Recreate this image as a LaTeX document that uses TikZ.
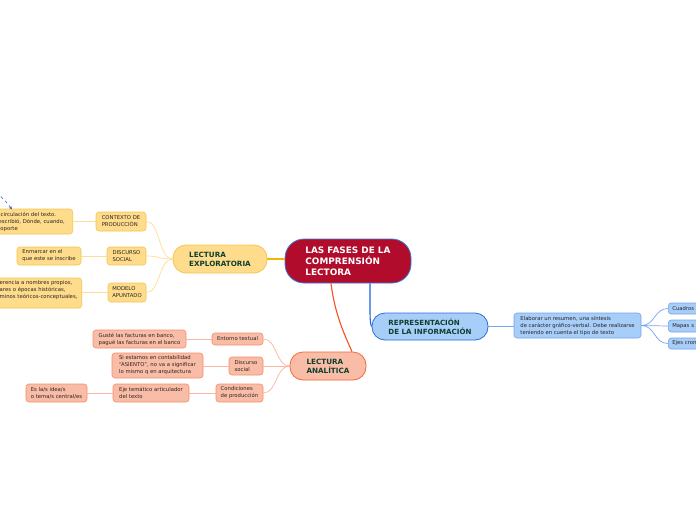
\documentclass[tikz,border=0pt]{standalone}
\usepackage{fontspec}
\setmainfont{DejaVu Sans}
\usetikzlibrary{arrows.meta}
\definecolor{cCrim}{HTML}{B10C2C}
\definecolor{cCrimLine}{HTML}{3C7DD8}
\definecolor{cDGreen}{HTML}{0E3F2E}
\definecolor{cText}{HTML}{2B2420}
\definecolor{cYFill}{HTML}{FEDC8C}
\definecolor{cYLine}{HTML}{F7C452}
\definecolor{cYMain}{HTML}{F5B400}
\definecolor{cYSub}{HTML}{FFDD95}
\definecolor{cSFill}{HTML}{F9BCA6}
\definecolor{cSLine}{HTML}{F3906A}
\definecolor{cSMajLine}{HTML}{F26A3A}
\definecolor{cSMain}{HTML}{F4521E}
\definecolor{cSSub}{HTML}{F8B79E}
\definecolor{cBFill}{HTML}{A7CDF9}
\definecolor{cBLine}{HTML}{74A6EC}
\definecolor{cBMajLine}{HTML}{2C6FD6}
\definecolor{cBMain}{HTML}{1E63D8}
\definecolor{cBSub}{HTML}{74A6EC}
\definecolor{cDash}{HTML}{3B5BDB}
\begin{document}
\begin{tikzpicture}[x=1pt,y=-1pt,
  base/.style={draw, rounded corners=3pt, align=left, inner sep=0pt,
    font=\fontsize{5.3}{7}\selectfont, text=cText, line width=0.6pt},
  ynode/.style={base, fill=cYFill, draw=cYLine},
  snode/.style={base, fill=cSFill, draw=cSLine},
  bnode/.style={base, fill=cBFill, draw=cBLine},
  major/.style={draw, rounded corners=13pt, align=left, inner sep=0pt,
    font=\fontsize{7.2}{9}\bfseries\selectfont, text=cDGreen, line width=0.8pt},
  ymain/.style={draw=cYMain, line width=1.1pt},
  ysub/.style={draw=cYSub, line width=0.7pt},
  smain/.style={draw=cSMain, line width=1.1pt},
  ssub/.style={draw=cSSub, line width=0.7pt},
  bmain/.style={draw=cBMain, line width=1.1pt},
  bsub/.style={draw=cBSub, line width=0.7pt},
]
\useasboundingbox (0,0) rectangle (696,520);
\clip (0,0) rectangle (696,520);
\fill[white] (0,0) rectangle (696,520);

% central
\node[draw=cCrimLine, fill=cCrim, rounded corners=19pt, line width=0.8pt,
  minimum width=126pt, minimum height=44pt, inner sep=0pt, align=left,
  text=white, font=\fontsize{8.9}{11}\bfseries\selectfont]
  (central) at (348,261) {LAS FASES DE LA\\COMPRENSIÓN\\LECTORA};

% exploratoria branch
\node[major, fill=cYFill, draw=cYLine, minimum width=94pt, minimum height=28pt]
  (explor) at (220,259) {LECTURA\\EXPLORATORIA};
\node[ynode, minimum width=50pt, minimum height=19pt] (ctx) at (121,221.5) {CONTEXTO DE\\PRODUCCIÓN};
\node[ynode, minimum width=39pt, minimum height=18pt] (dsoc) at (126.5,256) {DISCURSO\\SOCIAL};
\node[ynode, minimum width=38pt, minimum height=19pt] (mod) at (127,292.5) {MODELO\\APUNTADO};
\node[ynode, anchor=east, text width=96pt, minimum height=25pt] (leafa) at (73,221.5)
  {\hspace*{24pt}\mbox{circulación del texto.}\\\hspace*{22pt}\mbox{escribió, Dónde, cuando,}\\\hspace*{21pt}\mbox{soporte}};
\node[ynode, minimum width=64pt, minimum height=18pt] (leafb) at (49,256) {Enmarcar en el\\que este se inscribe};
\node[ynode, anchor=east, text width=104pt, minimum height=30pt] (leafc) at (82,293)
  {\hspace*{22pt}\mbox{erencia a nombres propios,}\\\hspace*{22pt}\mbox{ares o épocas históricas,}\\\hspace*{22pt}\mbox{minos teóricos-conceptuales,}\\\mbox{}};

\draw[ymain] (explor.east) -- (explor.east -| central.west);
\draw[ysub] (explor.west) .. controls +(-14,0) and +(14,0) .. (ctx.east);
\draw[ysub] (explor.west) .. controls +(-14,0) and +(14,0) .. (dsoc.east);
\draw[ysub] (explor.west) .. controls +(-14,0) and +(14,0) .. (mod.east);
\draw[ysub] (ctx.west) -- (ctx.west -| leafa.east);
\draw[ysub] (dsoc.west) -- (leafb.east);
\draw[ysub] (mod.west) -- (mod.west -| leafc.east);

\coordinate (dstart) at (-4,193);
\coordinate (dend) at (12,209.5);
\draw[draw=cDash, dashed, line width=0.6pt, -{Stealth[length=3.5pt,width=3pt]}]
  (dstart) .. controls (4,199) .. (dend);

% analitica branch
\node[major, fill=cSFill, draw=cSMajLine, minimum width=76pt, minimum height=28pt]
  (anal) at (328,366) {LECTURA\\ANALÍTICA};
\node[snode, minimum width=51pt, minimum height=12pt] (ent) at (237.5,339) {Entorno textual};
\node[snode, minimum width=34pt, minimum height=18pt] (dsoc2) at (246,366) {Discurso\\social};
\node[snode, minimum width=47pt, minimum height=18pt] (cond) at (239.5,393) {Condiciones\\de producción};
\node[snode, minimum width=93pt, minimum height=18pt] (gus) at (139.5,339) {Gusté las facturas en banco,\\pagué las facturas en el banco};
\node[snode, minimum width=91pt, minimum height=25pt] (siest) at (157.5,365.5) {Si estamos en contabilidad\\``ASIENTO'', no va a significar\\lo mismo q en arquitectura};
\node[snode, minimum width=76pt, minimum height=18pt] (eje) at (151,393) {Eje temático articulador\\del texto};
\node[snode, minimum width=61pt, minimum height=18pt] (esla) at (56.5,393) {Es la/s idea/s\\o tema/s central/es};

\draw[smain] ([xshift=-17pt]central.south) .. controls +(4,32) and +(-7,-16) .. ([xshift=24pt]anal.north);
\draw[ssub] (anal.west) .. controls +(-14,0) and +(14,0) .. (ent.east);
\draw[ssub] (anal.west) .. controls +(-14,0) and +(14,0) .. (dsoc2.east);
\draw[ssub] (anal.west) .. controls +(-14,0) and +(14,0) .. (cond.east);
\draw[ssub] (ent.west) -- (gus.east);
\draw[ssub] (dsoc2.west) -- (dsoc2.west -| siest.east);
\draw[ssub] (cond.west) -- (eje.east);
\draw[ssub] (eje.west) -- (esla.east);

% representacion branch
\node[major, fill=cBFill, draw=cBMajLine, minimum width=116pt, minimum height=27pt, font=\fontsize{7.1}{9}\bfseries\selectfont]
  (repr) at (430,326.5) {REPRESENTACIÓN\\DE LA INFORMACIÓN};
\node[bnode, minimum width=127pt, minimum height=25pt] (elab) at (577.5,325.5)
  {Elaborar un resumen, una síntesis\\de carácter gráfico-verbal. Debe realizarse\\teniendo en cuenta el tipo de texto};
\node[bnode, anchor=west, inner xsep=4pt, text width=40pt, minimum height=11pt] (cuad) at (668,308.5) {Cuadros};
\node[bnode, anchor=west, inner xsep=4pt, text width=40pt, minimum height=12pt] (mapas) at (668,326) {Mapas s};
\node[bnode, anchor=west, inner xsep=4pt, text width=40pt, minimum height=11pt] (ejes) at (668,343.5) {Ejes cron};

\draw[bmain] ([xshift=22pt]central.south) .. controls +(0,30) and +(-2,-4) .. (repr.west);
\draw[bsub] (repr.east) -- (repr.east -| elab.west);
\draw[bsub] (elab.east) .. controls +(14,0) and +(-14,0) .. (cuad.west);
\draw[bsub] (elab.east) .. controls +(14,0) and +(-14,0) .. (mapas.west);
\draw[bsub] (elab.east) .. controls +(14,0) and +(-14,0) .. (ejes.west);
\end{tikzpicture}
\end{document}
